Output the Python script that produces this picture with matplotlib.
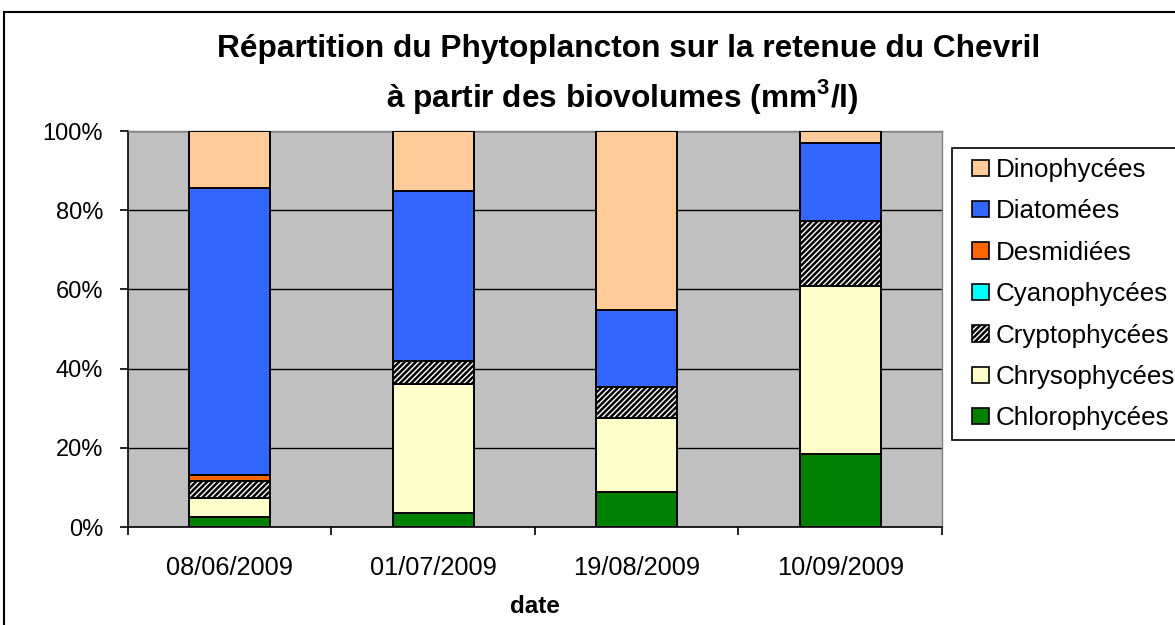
# -*- coding: utf-8 -*-
"""
Stacked 100% bar chart of phytoplankton groups (biovolumes) on the Chevril reservoir.
"""

#%% - Import modules
import matplotlib
matplotlib.use('Agg')
import matplotlib.pyplot as plt
from matplotlib.patches import Rectangle
from matplotlib.legend_handler import HandlerPatch
from matplotlib.ticker import FixedLocator, PercentFormatter
import numpy as np

plt.rcParams['font.family'] = ['Liberation Sans', 'DejaVu Sans']
plt.rcParams['mathtext.fontset'] = 'custom'
plt.rcParams['mathtext.rm'] = 'Liberation Sans'
plt.rcParams['mathtext.bf'] = 'Liberation Sans:bold'
plt.rcParams['hatch.linewidth'] = 1.8

#%% - Data (percent of total biovolume)
dates = ['08/06/2009', '01/07/2009', '19/08/2009', '10/09/2009']
groups = ['Chlorophycées', 'Chrysophycées', 'Cryptophycées', 'Cyanophycées',
          'Desmidiées', 'Diatomées', 'Dinophycées']
chlorophycees = [2.4, 3.5, 8.8, 18.5]
chrysophycees = [4.9, 32.6, 18.8, 42.4]
cryptophycees = [4.3, 5.8, 7.7, 16.4]
cyanophycees  = [0.0, 0.0, 0.0, 0.0]
desmidiees    = [1.5, 0.0, 0.0, 0.0]
diatomees     = [72.6, 42.9, 19.6, 19.6]
dinophycees   = [14.3, 15.2, 45.1, 3.1]

series = [chlorophycees, chrysophycees, cryptophycees, cyanophycees,
          desmidiees, diatomees, dinophycees]
colours = ['#008000', '#FFFFCC', 'white', '#00FFFF', '#FF6600', '#3366FF', '#FFCC99']
hatches = [None, None, '//////', None, None, None, None]


#%% - Small square legend key, pushed to the right of the handle box
def square_key(legend, orig_handle, xdescent, ydescent, width, height, fontsize):
    return Rectangle((-xdescent + width - height, -ydescent), height, height)


#%% - Plot
fig = plt.figure(figsize=(11.75, 6.25), dpi=100)
ax = fig.add_axes([0.1089, 0.1568, 0.6928, 0.6336])
ax.set_facecolor('#C0C0C0')

x = np.arange(len(dates))
bottom = np.zeros(len(dates))
keys = []
for name, vals, col, hat in zip(groups, series, colours, hatches):
    vals = np.array(vals)
    ax.bar(x, vals, width=0.4, bottom=bottom, color=col, edgecolor='black',
           linewidth=1.4, hatch=hat, label=name, zorder=3)
    keys.append(Rectangle((0, 0), 1, 1, facecolor=col, edgecolor='black',
                          linewidth=1.2, hatch=hat))
    bottom += vals

ax.set_xlim(-0.5, 3.5)
ax.set_ylim(0, 100)
ax.yaxis.set_major_locator(FixedLocator([0, 20, 40, 60, 80, 100]))
ax.yaxis.set_major_formatter(PercentFormatter(decimals=0))
ax.grid(axis='y', color='black', linewidth=1.0, zorder=1)

# category labels on minor ticks, boundary ticks on major
ax.xaxis.set_major_locator(FixedLocator([-0.5, 0.5, 1.5, 2.5, 3.5]))
ax.xaxis.set_minor_locator(FixedLocator(x))
ax.set_xticklabels([], minor=False)
ax.set_xticklabels(dates, minor=True)
ax.tick_params(axis='x', which='major', length=6, width=1.2, direction='out')
ax.tick_params(axis='x', which='minor', length=0, pad=21, labelsize=18.3)
ax.tick_params(axis='y', length=6, width=1.2, direction='out', pad=12, labelsize=17)

for s in ['left', 'bottom']:
    ax.spines[s].set_color('black')
    ax.spines[s].set_linewidth(1.2)
for s in ['top', 'right']:
    ax.spines[s].set_color('#808080')
    ax.spines[s].set_linewidth(1.0)

ax.set_xlabel('date', fontsize=17.5, fontweight='bold', labelpad=11)

# Title on two lines
fig.text(0.535, 0.922, 'Répartition du Phytoplancton sur la retenue du Chevril',
         ha='center', va='center', fontsize=22.8, fontweight='bold')
fig.text(0.530, 0.845, r'à partir des biovolumes (mm$^{\mathbf{3}}$/l)',
         ha='center', va='center', fontsize=22.8, fontweight='bold')

# Legend (top entry first, as in the chart)
leg = fig.legend(keys[::-1], groups[::-1], loc='upper left',
                 bbox_to_anchor=(0.810, 0.763), bbox_transform=fig.transFigure,
                 borderaxespad=0, fontsize=18.7, frameon=True, fancybox=False,
                 handler_map={Rectangle: HandlerPatch(patch_func=square_key)},
                 handlelength=1.04, handleheight=0.6, handletextpad=0.27,
                 labelspacing=0.67, borderpad=0.38)
leg.get_frame().set_edgecolor('black')
leg.get_frame().set_linewidth(1.2)
leg.get_frame().set_alpha(1)

# Outer chart frame (right and bottom sides fall outside the picture)
fig.patches.append(Rectangle((0.0034, -0.05), 1.1, 1.0308, transform=fig.transFigure,
                             fill=False, edgecolor='black', linewidth=1.5))

fig.savefig('out.png', dpi=100)
